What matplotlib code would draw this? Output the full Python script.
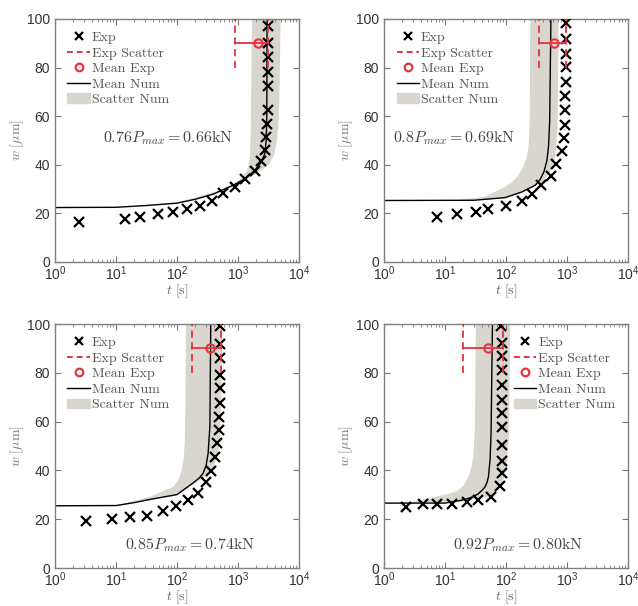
import numpy as np
import matplotlib
matplotlib.use('Agg')
import matplotlib.pyplot as plt
from matplotlib.lines import Line2D
from matplotlib.patches import Patch

plt.rcParams['font.family'] = ['Liberation Sans', 'DejaVu Sans']

# panel titles (load levels)
labels = [r'$0.76P_{max} = 0.66\mathrm{kN}$', r'$0.8P_{max} = 0.69\mathrm{kN}$',
          r'$0.85P_{max} = 0.74\mathrm{kN}$', r'$0.92P_{max} = 0.80\mathrm{kN}$']

# experimental points, t [s] and w [um]
exp1_t = [2.5, 14, 24.7, 49, 85, 144, 238, 375, 575, 890, 1290, 1870, 2420, 2750, 2920,
          3000, 3100, 3140, 3140, 3140, 3140, 3140]
exp1_w = [16.5, 17.6, 18.5, 19.9, 20.7, 21.8, 22.9, 25.1, 28.2, 30.9, 34.1, 37.5, 41.6, 46,
          51.5, 56.7, 62.5, 72.4, 78.3, 84.5, 90, 97.1]
exp2_t = [7.5, 15.6, 32.8, 51.6, 99, 182, 265, 373, 545, 658, 826, 879, 920, 940, 940,
          960, 960, 960, 960, 960]
exp2_w = [18.4, 19.8, 20.7, 21.7, 22.9, 25, 28, 31.6, 35.3, 40.5, 45.6, 51.1, 56.3, 62.5,
          68.4, 74.2, 80.4, 85.6, 91.6, 98.5]
exp3_t = [3.2, 8.7, 16.9, 31.7, 58, 98, 149, 217, 304, 367, 427, 460, 480, 490, 500,
          500, 500, 500, 500, 500]
exp3_w = [19.2, 20, 20.8, 21.4, 23.4, 25.3, 27.8, 30.8, 35.3, 39.9, 45.6, 51.1, 56.6, 62,
          67.5, 73.7, 79.2, 86, 92, 99.3]
exp4_t = [2.3, 4.3, 7.5, 13.2, 22.8, 35.4, 57, 80, 85, 85, 85, 85, 85, 85, 85, 85, 85, 85, 84]
exp4_w = [25.1, 26.2, 26.2, 26.2, 27, 27.7, 29.2, 33.6, 38.8, 43.8, 50.4, 57.9, 63.4, 68.9,
          75, 81, 86.7, 92.2, 99.3]

# mean numerical curves
num1_t = [1, 10, 30, 100, 200, 400, 840, 1290, 1900, 2400, 2750, 2900, 2970, 3000]
num1_w = [22.4, 22.5, 23.2, 24.2, 25.8, 28, 31.6, 34.2, 37.8, 41, 44.5, 50, 60, 100]
num2_t = [1, 30, 97, 182, 302, 360, 420, 470, 500, 520, 545]
num2_w = [25.3, 25.4, 26.5, 28.8, 31.6, 33.8, 37.2, 41.9, 48, 58, 100]
num3_t = [1, 10, 20, 36, 100, 184, 230, 268, 300, 324, 346, 358]
num3_w = [25.5, 25.6, 26.8, 28.1, 30.1, 34.9, 36.8, 38.8, 42, 47, 58, 100]
num4_t = [1, 10, 18.9, 28, 35.4, 41, 45.5, 49, 51.5, 54.8, 56.9, 60]
num4_w = [26.6, 26.6, 27.8, 29, 30.5, 32, 33.3, 35.2, 37.4, 44.2, 55.2, 100]

# numerical scatter band, early (left) and late (right) edges
band1_lo_t = [10, 50, 98, 200, 390, 830, 1150, 1400, 1530, 1580, 1620, 1700]
band1_lo_w = [22.5, 23.6, 24.6, 26.5, 28.6, 32, 34.6, 37.5, 41, 45, 55, 100]
band1_hi_t = [10, 100, 400, 830, 1500, 2300, 3300, 3900, 4300, 4600, 4800, 5000]
band1_hi_w = [22.5, 24.0, 27.8, 31.3, 34.5, 37.3, 40.5, 44, 49, 56, 70, 100]
band2_lo_t = [16.6, 45, 97, 130, 160, 190, 220, 235, 245, 250]
band2_lo_w = [25.4, 26.9, 30.9, 33.2, 35.7, 39, 43.3, 48, 58, 100]
band2_hi_t = [16.6, 100, 302, 400, 500, 580, 650, 700, 730]
band2_hi_w = [25.3, 26.2, 31.2, 33, 36, 39, 44, 55, 100]
band3_lo_t = [10, 36, 87, 105, 118, 128, 134, 138, 140]
band3_lo_w = [25.6, 29.2, 33.3, 36, 39.5, 44.5, 51.1, 68.9, 100]
band3_hi_t = [10, 100, 236, 330, 400, 460, 503, 535, 556]
band3_hi_w = [25.5, 29.8, 36, 38.5, 41.5, 46, 52.5, 69, 100]
band4_lo_t = [2.5, 6.9, 12, 16.6, 20.5, 24.2, 27.2, 29.2, 31, 32]
band4_lo_w = [26.6, 29.2, 30.5, 31.9, 34, 37.4, 41.5, 45.6, 58, 100]
band4_hi_t = [2.5, 18.9, 51.5, 68, 80, 93, 103, 112, 117]
band4_hi_w = [26.6, 27.1, 29.2, 31, 33.3, 37, 41.5, 55.2, 100]

# experimental scatter: min, mean, max failure time
scat_min = [908, 350, 179, 19.6]
scat_mean = [2130, 610, 353, 51.6]
scat_max = [3100, 960, 520, 88.6]
scat_w = 90
scat_w_range = [80, 100]

band_color = '#d9d6d0'
red = '#e6333f'
cm_text = dict(math_fontfamily='cm')


def draw_panel(ax, i, exp_t, exp_w, num_t, num_w, lo_t, lo_w, hi_t, hi_w, legend_loc, text_pos):
    """draws one creep panel: band, mean line, exp points, exp scatter"""
    poly_t = list(lo_t) + list(hi_t)[::-1]
    poly_w = list(lo_w) + list(hi_w)[::-1]
    ax.fill(poly_t, poly_w, color=band_color, lw=0, zorder=1)
    ax.plot(num_t, num_w, color='black', lw=1.0, zorder=2)
    ax.plot(exp_t, exp_w, ls='none', marker='x', color='black', ms=6.5, mew=1.6, zorder=3)
    # exp scatter bar
    ax.plot([scat_min[i], scat_max[i]], [scat_w, scat_w], color=red, lw=1.3, zorder=4)
    for tt in [scat_min[i], scat_max[i]]:
        ax.plot([tt, tt], scat_w_range, color=red, lw=1.3, ls=(0, (4, 2.5)), zorder=4)
    ax.plot(scat_mean[i], scat_w, ls='none', marker='o', ms=6, mfc='none', mec=red, mew=1.5, zorder=5)

    ax.set_xscale('log')
    ax.set_xlim(1, 1e4)
    ax.set_ylim(0, 100)
    ax.set_yticks([0, 20, 40, 60, 80, 100])
    ax.set_xticks([1, 10, 100, 1000, 10000])
    ax.tick_params(which='both', direction='in', top=True, right=True, colors='#777777',
                   labelcolor='#333333', labelsize=10)
    ax.tick_params(which='major', length=4, width=0.8)
    ax.tick_params(axis='x', which='major', pad=2)
    ax.tick_params(axis='y', which='major', pad=3.5)
    ax.tick_params(which='minor', length=2, width=0.6)
    for s in ax.spines.values():
        s.set_color('#808080')
        s.set_linewidth(1.0)
    ax.set_xlabel(r'$t\ [\mathrm{s}]$', color='#666666', fontsize=10, labelpad=-0.5, **cm_text)
    ax.set_ylabel(r'$w\ [\mu\mathrm{m}]$', color='#777777', fontsize=10, labelpad=1, **cm_text)
    ax.text(text_pos[0], text_pos[1], labels[i], transform=ax.transAxes, ha='center', va='center',
            fontsize=11.5, color='#444444', **cm_text)

    handles = [Line2D([], [], ls='none', marker='x', color='black', ms=6, mew=1.6),
               Line2D([], [], color=red, lw=1.4, ls=(0, (3, 2))),
               Line2D([], [], ls='none', marker='o', ms=5.5, mfc='none', mec=red, mew=1.6),
               Line2D([], [], color='black', lw=1.0),
               Patch(color=band_color)]
    names = ['Exp', 'Exp Scatter', 'Mean Exp', 'Mean Num', 'Scatter Num']
    leg = ax.legend(handles, names, loc=legend_loc, frameon=False, prop={'family': 'cmr10', 'size': 10},
                    handlelength=1.6, handletextpad=0.15, labelspacing=0.2, borderaxespad=0.5)
    for t in leg.get_texts():
        t.set_color('#555555')


fig = plt.figure(figsize=(6.38, 6.06), dpi=100)
ax1 = fig.add_axes([0.0862, 0.5677, 0.3824, 0.401])
ax2 = fig.add_axes([0.6019, 0.5677, 0.3824, 0.401])
ax3 = fig.add_axes([0.0862, 0.0627, 0.3824, 0.4026])
ax4 = fig.add_axes([0.6019, 0.0627, 0.3824, 0.4026])

draw_panel(ax1, 0, exp1_t, exp1_w, num1_t, num1_w, band1_lo_t, band1_lo_w, band1_hi_t, band1_hi_w,
           'upper left', (0.464, 0.508))
draw_panel(ax2, 1, exp2_t, exp2_w, num2_t, num2_w, band2_lo_t, band2_lo_w, band2_hi_t, band2_hi_w,
           'upper left', (0.285, 0.508))
draw_panel(ax3, 2, exp3_t, exp3_w, num3_t, num3_w, band3_lo_t, band3_lo_w, band3_hi_t, band3_hi_w,
           'upper left', (0.553, 0.093))
draw_panel(ax4, 3, exp4_t, exp4_w, num4_t, num4_w, band4_lo_t, band4_lo_w, band4_hi_t, band4_hi_w,
           'upper right', (0.551, 0.093))

plt.savefig('out.png', dpi=100)
